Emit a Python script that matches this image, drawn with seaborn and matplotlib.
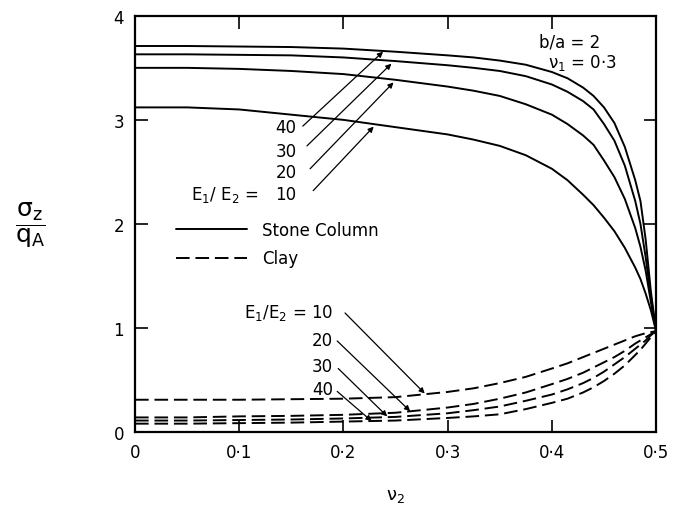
import numpy as np
import pandas as pd
import matplotlib
matplotlib.use('Agg')
import matplotlib.pyplot as plt
from matplotlib.lines import Line2D
import seaborn as sns

# Данные
nu2 = [0, 0.05, 0.1, 0.15, 0.2, 0.25, 0.3, 0.325, 0.35, 0.375, 0.4, 0.415,
       0.43, 0.44, 0.45, 0.46, 0.47, 0.48, 0.485, 0.49, 0.495, 0.5]
ratios = [10, 20, 30, 40]

stone_10 = [3.12, 3.12, 3.10, 3.05, 3.00, 2.93, 2.86, 2.81, 2.75, 2.66, 2.53, 2.42,
            2.28, 2.18, 2.06, 1.93, 1.77, 1.58, 1.47, 1.33, 1.17, 0.97]
stone_20 = [3.50, 3.50, 3.49, 3.47, 3.44, 3.385, 3.32, 3.28, 3.23, 3.15, 3.05, 2.96,
            2.85, 2.76, 2.61, 2.45, 2.24, 1.96, 1.78, 1.55, 1.25, 0.97]
stone_30 = [3.63, 3.63, 3.625, 3.62, 3.60, 3.565, 3.525, 3.50, 3.47, 3.42, 3.34, 3.27,
            3.18, 3.10, 2.96, 2.80, 2.56, 2.22, 2.00, 1.68, 1.30, 0.97]
stone_40 = [3.71, 3.71, 3.705, 3.70, 3.685, 3.655, 3.62, 3.60, 3.57, 3.53, 3.46, 3.40,
            3.31, 3.23, 3.12, 2.97, 2.74, 2.42, 2.22, 1.85, 1.35, 0.97]

clay_10 = [0.31, 0.31, 0.31, 0.315, 0.32, 0.335, 0.385, 0.42, 0.47, 0.53, 0.61, 0.66,
           0.72, 0.76, 0.80, 0.84, 0.88, 0.92, 0.935, 0.95, 0.96, 0.97]
clay_20 = [0.14, 0.14, 0.15, 0.155, 0.165, 0.185, 0.235, 0.27, 0.32, 0.38, 0.46, 0.51,
           0.57, 0.62, 0.67, 0.72, 0.78, 0.85, 0.88, 0.91, 0.94, 0.97]
clay_30 = [0.11, 0.11, 0.115, 0.12, 0.13, 0.145, 0.18, 0.21, 0.245, 0.30, 0.36, 0.41,
           0.47, 0.52, 0.58, 0.65, 0.72, 0.80, 0.84, 0.88, 0.93, 0.97]
clay_40 = [0.08, 0.08, 0.085, 0.09, 0.10, 0.11, 0.135, 0.15, 0.17, 0.22, 0.28, 0.32,
           0.38, 0.43, 0.49, 0.56, 0.64, 0.74, 0.79, 0.85, 0.91, 0.96]

xtick_vals = [0, 0.1, 0.2, 0.3, 0.4, 0.5]
xtick_labels = ['0', '0·1', '0·2', '0·3', '0·4', '0·5']
ytick_vals = [0, 1, 2, 3, 4]

# Сборка длинной таблицы
stone = {10: stone_10, 20: stone_20, 30: stone_30, 40: stone_40}
clay = {10: clay_10, 20: clay_20, 30: clay_30, 40: clay_40}
rows = []
for name, series in [('Stone Column', stone), ('Clay', clay)]:
    for r in ratios:
        for x, y in zip(nu2, series[r]):
            rows.append({'nu2': x, 'sigma': y, 'material': name, 'unit': f'{name}-{r}'})
df = pd.DataFrame(rows)

sns.set_theme(style='ticks')
plt.rcParams['font.family'] = ['DejaVu Sans']
plt.rcParams['mathtext.default'] = 'regular'
plt.rcParams['text.color'] = 'black'
plt.rcParams['axes.labelcolor'] = 'black'

fig = plt.figure(figsize=(6.82, 5.10), dpi=100)
ax = fig.add_axes([0.198, 0.151, 0.764, 0.816])

sns.lineplot(data=df, x='nu2', y='sigma', style='material', units='unit',
             estimator=None, color='black', linewidth=1.4,
             dashes={'Stone Column': '', 'Clay': (7, 3)}, legend=False, ax=ax)

ax.set_xlim(0, 0.5)
ax.set_ylim(0, 4)
ax.set_xticks(xtick_vals)
ax.set_xticklabels(xtick_labels)
ax.set_yticks(ytick_vals)
ax.tick_params(direction='in', top=True, right=True, length=9, width=1.2,
               labelsize=12, pad=8, colors='black')
for s in ax.spines.values():
    s.set_linewidth(1.6)
    s.set_color('black')

ax.set_xlabel('ν$_2$', fontsize=13, labelpad=18)
ax.set_ylabel(r'$\dfrac{\sigma_z}{q_A}$', fontsize=18, rotation=0, labelpad=0)
ax.yaxis.set_label_coords(-0.2, 0.44)

# Параметры
ax.text(0.417, 3.75, 'b/a = 2', ha='center', va='center', fontsize=12)
ax.text(0.429, 3.56, 'ν$_1$ = 0·3', ha='center', va='center', fontsize=12)

arrow = dict(arrowstyle='-|>', color='black', lw=0.9, mutation_scale=8,
             shrinkA=0, shrinkB=0)

# Подписи к колонне
top_text_y = [2.29, 2.50, 2.70, 2.93]
top_start = [(0.171, 2.32), (0.168, 2.53), (0.165, 2.75), (0.161, 2.94)]
top_tip = [(0.229, 2.935), (0.248, 3.36), (0.246, 3.54), (0.238, 3.655)]
for r, ty, st, tp in zip(ratios, top_text_y, top_start, top_tip):
    ax.text(0.155, ty, str(r), ha='right', va='center', fontsize=12)
    ax.annotate('', xy=tp, xytext=st, arrowprops=arrow)
ax.text(0.118, 2.29, 'E$_1$/ E$_2$ =', ha='right', va='center', fontsize=12)

# Подписи к глине
bot_text_y = [1.15, 0.88, 0.63, 0.41]
bot_labels = ['E$_1$/E$_2$ = 10', '20', '30', '40']
bot_start = [(0.2015, 1.144), (0.194, 0.875), (0.195, 0.61), (0.194, 0.39)]
bot_tip = [(0.278, 0.37), (0.264, 0.20), (0.242, 0.15), (0.227, 0.105)]
for lab, ty, st, tp in zip(bot_labels, bot_text_y, bot_start, bot_tip):
    ax.text(0.19, ty, lab, ha='right', va='center', fontsize=12)
    ax.annotate('', xy=tp, xytext=st, arrowprops=arrow)

handles = [Line2D([], [], color='black', lw=1.4),
           Line2D([], [], color='black', lw=1.4, dashes=(7, 3))]
ax.legend(handles, ['Stone Column', 'Clay'], loc='upper left',
          bbox_to_anchor=(0.078, 0.508), frameon=False, fontsize=12,
          handlelength=4.3, handletextpad=0.9, labelspacing=0.65,
          borderpad=0, borderaxespad=0)

fig.savefig('out.png', dpi=100)
